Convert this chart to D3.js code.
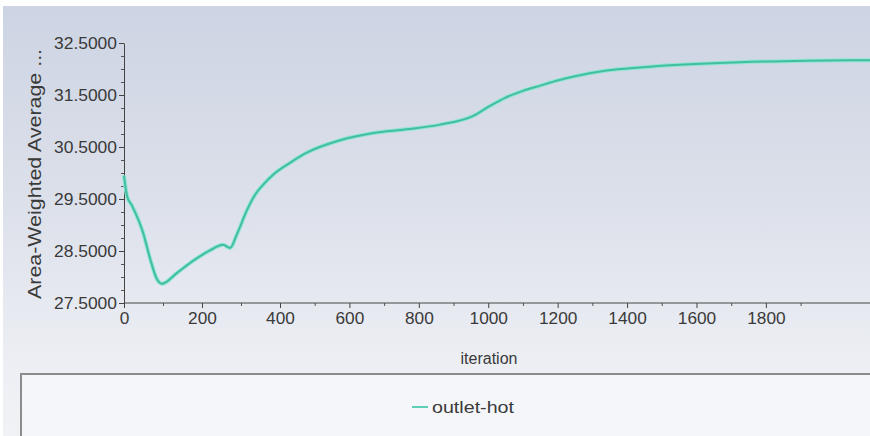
<!DOCTYPE html>
<html>
<head>
<meta charset="utf-8">
<script src="https://cdn.jsdelivr.net/npm/d3@7"></script>
<style>
  html, body { margin: 0; padding: 0; background: #fff; }
  svg { display: block; font-family: "Liberation Sans", Arial, sans-serif; }
</style>
</head>
<body>
<div class="wrapper"></div>
<script>
// iteration history
var iterations = [0, 8, 20, 49, 67, 85, 97, 136, 177, 220, 254, 272, 290, 315, 336, 360, 383, 430, 477, 573, 669, 765, 861, 957, 1000, 1050, 1100, 1150, 1200, 1250, 1341, 1437, 1581, 1725, 1917, 2100];
var outletHot = [29.95, 29.55, 29.38, 28.85, 28.35, 27.95, 27.87, 28.08, 28.31, 28.51, 28.62, 28.56, 28.83, 29.28, 29.58, 29.80, 29.97, 30.20, 30.39, 30.63, 30.77, 30.84, 30.93, 31.10, 31.27, 31.45, 31.58, 31.68, 31.78, 31.86, 31.97, 32.03, 32.09, 32.13, 32.16, 32.17];
var xTicks = [0, 200, 400, 600, 800, 1000, 1200, 1400, 1600, 1800];
var yTicks = [27.5, 28.5, 29.5, 30.5, 31.5, 32.5];
var seriesName = "outlet-hot";

var width = 870,
    height = 436;

var svg = d3.select(".wrapper").append("svg")
    .attr("width", width)
    .attr("height", height);

var defs = svg.append("defs");
var grad = defs.append("linearGradient").attr("id", "bg")
    .attr("x1", 0).attr("y1", 0).attr("x2", 0).attr("y2", 1);
grad.append("stop").attr("offset", "0%").attr("stop-color", "#cdd4e3");
grad.append("stop").attr("offset", "45%").attr("stop-color", "#dce0ea");
grad.append("stop").attr("offset", "85%").attr("stop-color", "#edeff4");
grad.append("stop").attr("offset", "100%").attr("stop-color", "#f0f2f6");

svg.append("rect").attr("x", 3).attr("y", 6)
    .attr("width", width - 3).attr("height", height - 6)
    .attr("fill", "url(#bg)");

// the picture is squeezed a bit more after 400, so the x scale has a knee there
var x = d3.scaleLinear()
    .domain([0, 400, 2100])
    .range([124, 280, 870])
    .clamp(true);

var y = d3.scaleLinear()
    .domain([27.5, 32.5])
    .range([303, 43]);

// minor ticks first
var yMinor = d3.range(27.5, 32.51, 0.25);
svg.append("g")
    .attr("transform", "translate(124,0)")
    .call(d3.axisLeft(y).tickValues(yMinor).tickSize(3).tickFormat(""))
    .call(function(g) { g.select(".domain").remove(); g.selectAll("line").attr("stroke", "#555"); });

var xMinor = d3.range(100, 2100, 200);
svg.append("g")
    .attr("transform", "translate(0,303)")
    .call(d3.axisBottom(x).tickValues(xMinor).tickSize(3).tickFormat(""))
    .call(function(g) { g.select(".domain").remove(); g.selectAll("line").attr("stroke", "#555"); });

var yAxis = svg.append("g")
    .attr("transform", "translate(124,0)")
    .call(d3.axisLeft(y).tickValues(yTicks).tickSize(5).tickPadding(2).tickFormat(d3.format(".4f")).tickSizeOuter(0));
yAxis.select(".domain").attr("stroke", "#444");
yAxis.selectAll("line").attr("stroke", "#444");
yAxis.selectAll("text").attr("fill", "#3a3a3a").style("font-size", "17px")
    .attr("textLength", 63).attr("lengthAdjust", "spacingAndGlyphs");

var xAxis = svg.append("g")
    .attr("transform", "translate(0,303)")
    .call(d3.axisBottom(x).tickValues(xTicks).tickSize(5).tickPadding(4).tickSizeOuter(0).tickFormat(d3.format("d")));
xAxis.select(".domain").attr("stroke", "#444").attr("d", "M124,0H870");
xAxis.selectAll("line").attr("stroke", "#444");
xAxis.selectAll("text").attr("fill", "#3a3a3a").style("font-size", "17px")
    .each(function(d) {
      var n = String(d).length;
      d3.select(this).attr("textLength", n * 9.6).attr("lengthAdjust", "spacingAndGlyphs");
    });

svg.append("text")
    .attr("x", 489).attr("y", 364)
    .attr("text-anchor", "middle")
    .attr("fill", "#3a3a3a")
    .style("font-size", "16px")
    .text("iteration");

svg.append("text")
    .attr("transform", "translate(41,174) rotate(-90)")
    .attr("text-anchor", "middle")
    .attr("fill", "#3a3a3a")
    .style("font-size", "19px")
    .attr("textLength", 250).attr("lengthAdjust", "spacingAndGlyphs")
    .text("Area-Weighted Average ...");

var line = d3.line()
    .x(function(d, i) { return x(iterations[i]); })
    .y(function(d) { return y(d); })
    .curve(d3.curveMonotoneX);

svg.append("path")
    .datum(outletHot)
    .attr("d", line)
    .attr("fill", "none")
    .attr("stroke", "#8ee6d2")
    .attr("stroke-width", 4)
    .attr("stroke-linejoin", "round");
svg.append("path")
    .datum(outletHot)
    .attr("d", line)
    .attr("fill", "none")
    .attr("stroke", "#43bea0")
    .attr("stroke-width", 2)
    .attr("stroke-linejoin", "round");

// legend box
svg.append("rect")
    .attr("x", 21).attr("y", 374)
    .attr("width", 860).attr("height", 80)
    .attr("fill", "#f5f6f9")
    .attr("stroke", "#8c8c8c")
    .attr("stroke-width", 2);

var legend = svg.append("g").attr("transform", "translate(412,407)");
legend.append("line")
    .attr("x1", 0).attr("x2", 16)
    .attr("stroke", "#5fd0b5").attr("stroke-width", 2);
legend.append("text")
    .attr("x", 20).attr("dy", "0.35em")
    .attr("fill", "#3a3a3a")
    .style("font-size", "17px")
    .attr("textLength", 82).attr("lengthAdjust", "spacingAndGlyphs")
    .text(seriesName);
</script>
</body>
</html>
